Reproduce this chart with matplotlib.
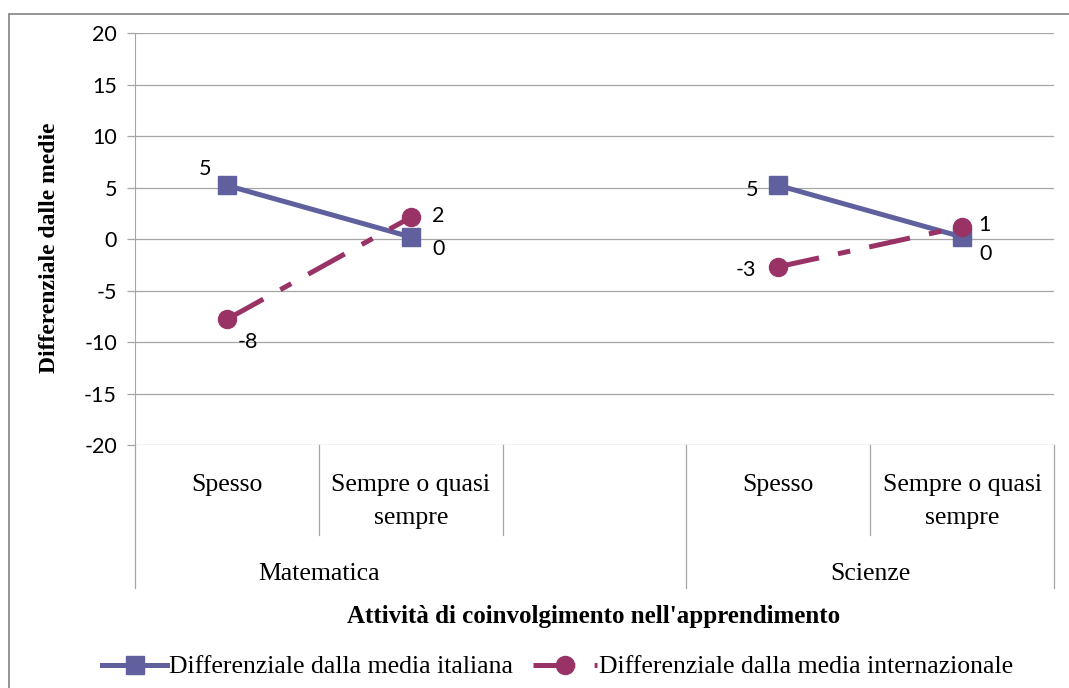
import matplotlib.pyplot as plt
import matplotlib.patches as mpatches

plt.rcParams['lines.scale_dashes'] = False
plt.rcParams['axes.unicode_minus'] = False

# data
categorie = ["Spesso", "Sempre o quasi\nsempre", "Spesso", "Sempre o quasi\nsempre"]
gruppi = ["Matematica", "Scienze"]
pos = [0, 1, 3, 4]
diff_italiana = [5.2, 0.2, 5.2, 0.2]
diff_internazionale = [-7.8, 2.1, -2.7, 1.2]

col_ita = '#60609E'
col_int = '#993366'
grigio = '#A6A6A6'
serif = 'Liberation Serif'
sans = 'Lato'

fig = plt.figure(figsize=(10.69, 6.88), dpi=100)
ax = fig.add_axes([135 / 1069, 1 - 445 / 688, (1054 - 135) / 1069, (445 - 33) / 688])

# cornice del grafico (esce dall'immagine a destra e in basso)
fig.patches.append(mpatches.Rectangle((9 / 1069, -0.1), 1.2, 1 - 14 / 688 + 0.1,
                                      transform=fig.transFigure, fill=False,
                                      edgecolor='#8C8C8C', linewidth=1.3))

ax.set_xlim(-0.5, 4.5)
ax.set_ylim(-20, 20)
ax.set_yticks(range(-20, 21, 5))
ax.yaxis.grid(True, color=grigio, linewidth=0.9)
ax.set_axisbelow(True)
for s in ['top', 'right', 'bottom']:
    ax.spines[s].set_visible(False)
ax.spines['left'].set_color(grigio)
ax.tick_params(axis='y', length=6, color=grigio, width=0.9, labelsize=15.5, pad=7)
for t in ax.get_yticklabels():
    t.set_fontfamily(sans)
ax.set_xticks([])

ax.plot(pos[:2], diff_italiana[:2], color=col_ita, lw=3.6, marker='s', ms=13,
        label='Differenziale dalla media italiana', zorder=3)
ax.plot(pos[2:], diff_italiana[2:], color=col_ita, lw=3.6, marker='s', ms=13, zorder=3)
tratteggio = (0, (30, 14, 9, 14))
ax.plot(pos[:2], diff_internazionale[:2], color=col_int, lw=3.6, marker='o', ms=13,
        ls=tratteggio, label='Differenziale dalla media internazionale', zorder=4)
ax.plot(pos[2:], diff_internazionale[2:], color=col_int, lw=3.6, marker='o', ms=13,
        ls=tratteggio, zorder=4)

# etichette dei dati
off_ita = [(-16, 12), (20, -9), (-19, -3), (17, -12)]
off_int = [(15, -16), (20, 1), (-23, -2), (16, 1)]
for x, y, o in zip(pos, diff_italiana, off_ita):
    ax.annotate(f"{round(y)}", (x, y), xytext=o, textcoords='offset points',
                ha='center', va='center', fontsize=15.5, fontfamily=sans)
for x, y, o in zip(pos, diff_internazionale, off_int):
    ax.annotate(f"{round(y)}", (x, y), xytext=o, textcoords='offset points',
                ha='center', va='center', fontsize=15.5, fontfamily=sans)

# asse delle categorie a due livelli
tr = ax.get_xaxis_transform()
h1 = -(535 - 445) / (445 - 33)
h2 = -(588 - 445) / (445 - 33)
for x in [0.5, 1.5, 3.5]:
    ax.plot([x, x], [0, h1], color=grigio, lw=0.9, transform=tr, clip_on=False)
for x in [-0.5, 2.5, 4.5]:
    ax.plot([x, x], [0, h2], color=grigio, lw=0.9, transform=tr, clip_on=False)
for x, lab in zip(pos, categorie):
    ax.text(x, -(474 - 445) / 412, lab, transform=tr, ha='center', va='top',
            fontsize=18.5, fontfamily=serif, linespacing=1.62)
for x, g in zip([0.5, 3.5], gruppi):
    ax.text(x, -(574 - 445) / 412, g, transform=tr, ha='center', va='center',
            fontsize=18.5, fontfamily=serif)

fig.text(594 / 1069, 1 - 617 / 688, "Attività di coinvolgimento nell'apprendimento",
         ha='center', va='center', fontsize=18, fontweight='bold', fontfamily=serif)
fig.text(50 / 1069, 1 - 248 / 688, "Differenziale dalle medie", rotation=90,
         ha='center', va='center', fontsize=17, fontweight='bold', fontfamily=serif)

fig.legend(loc='center', bbox_to_anchor=(558 / 1069, 1 - 667 / 688), ncol=2,
           frameon=False, handlelength=2.5, handletextpad=0.1, columnspacing=0.75,
           prop={'family': serif, 'size': 18.5})

fig.savefig('out.png', dpi=100)
